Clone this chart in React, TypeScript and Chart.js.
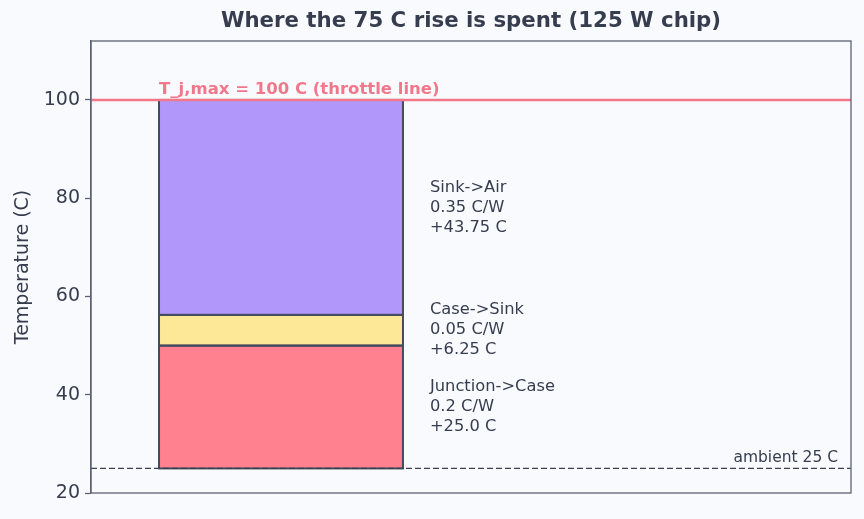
import React, { useEffect, useRef } from "react";
import { Chart, registerables } from "chart.js";

Chart.register(...registerables);

const categories = ["Thermal stack", ""];
const stageNames = ["Junction->Case", "Case->Sink", "Sink->Air"];
const resistances = [0.2, 0.05, 0.35];
const rises = [25.0, 6.25, 43.75];
const stageColors = ["#ff808f", "#fde898", "#b197fa"];
const ambient = 25;
const tjMax = 100;
const yTicks = [20, 40, 60, 80, 100];

const FONT = "'DejaVu Sans', sans-serif";
const TEXT = "#363d4f";
const AXIS = "#5c6173";
const EDGE = "#454b5e";

export default function App() {
  const ref = useRef<HTMLCanvasElement>(null);

  useEffect(() => {
    document.body.style.margin = "0";
    document.body.style.background = "#f9fafd";
    const ctx = ref.current!.getContext("2d")!;

    let base = ambient;
    const datasets = stageNames.map((name, i) => {
      const lo = base;
      const hi = base + rises[i];
      base = hi;
      return {
        label: name,
        data: [[lo, hi], null] as any,
        backgroundColor: stageColors[i],
        borderWidth: 0,
        grouped: false,
        barPercentage: 0.642,
        categoryPercentage: 1,
      };
    });

    const overlay = {
      id: "overlay",
      beforeDraw(chart: any) {
        const c = chart.ctx;
        c.save();
        c.fillStyle = "#f9fafd";
        c.fillRect(0, 0, chart.width, chart.height);
        c.restore();
      },
      afterDatasetsDraw(chart: any) {
        const c = chart.ctx;
        const a = chart.chartArea;
        const y = chart.scales.y;
        c.save();

        // bar edges, centred on segment boundaries
        c.strokeStyle = EDGE;
        c.lineWidth = 2;
        chart.data.datasets.forEach((_: any, i: number) => {
          const el = chart.getDatasetMeta(i).data[0];
          const l = el.x - el.width / 2;
          const top = Math.min(el.y, el.base);
          const h = Math.abs(el.base - el.y);
          c.strokeRect(l, top, el.width, h);
        });

        // throttle line
        const yt = y.getPixelForValue(tjMax);
        c.strokeStyle = "#f0788a";
        c.lineWidth = 2.5;
        c.beginPath();
        c.moveTo(a.left, yt);
        c.lineTo(a.right, yt);
        c.stroke();
        // ambient dashed
        const ya = y.getPixelForValue(ambient);
        c.strokeStyle = "#3b4050";
        c.lineWidth = 1.3;
        c.setLineDash([6, 3]);
        c.beginPath();
        c.moveTo(a.left, ya);
        c.lineTo(a.right, ya);
        c.stroke();
        c.setLineDash([]);
        // frame
        c.strokeStyle = AXIS;
        c.lineWidth = 1.3;
        c.strokeRect(a.left, a.top, a.right - a.left, a.bottom - a.top);

        const bar = chart.getDatasetMeta(0).data[0];
        const barLeft = bar.x - bar.width / 2;
        const barRight = bar.x + bar.width / 2;

        c.fillStyle = "#f0788a";
        c.font = `bold 16.5px ${FONT}`;
        c.textAlign = "left";
        c.textBaseline = "alphabetic";
        c.fillText(`T_j,max = ${tjMax} C (throttle line)`, barLeft, yt - 6);

        c.fillStyle = TEXT;
        c.font = `15.5px ${FONT}`;
        c.textAlign = "right";
        c.fillText(`ambient ${ambient} C`, a.right - 13, ya - 6);

        // stage labels
        c.font = `16.3px ${FONT}`;
        c.textAlign = "left";
        c.textBaseline = "middle";
        let b = ambient;
        stageNames.forEach((name, i) => {
          const mid = b + rises[i] / 2;
          b += rises[i];
          const py = y.getPixelForValue(mid);
          const lines = [name, `${resistances[i]} C/W`, `+${rises[i].toFixed(rises[i] % 1 === 0 ? 1 : 2)} C`];
          lines.forEach((t, k) => c.fillText(t, barRight + 27, py + (k - 1) * 20));
        });

        // title
        c.font = `bold 21.3px ${FONT}`;
        c.textAlign = "center";
        c.textBaseline = "middle";
        c.fillStyle = TEXT;
        c.fillText("Where the 75 C rise is spent (125 W chip)", (a.left + a.right) / 2, 21);
        c.restore();
      },
    };

    const chart = new Chart(ctx, {
      type: "bar",
      data: { labels: categories, datasets },
      options: {
        animation: false,
        responsive: false,
        layout: { padding: { left: 0, top: 41, right: 13, bottom: 26 } },
        plugins: { legend: { display: false }, title: { display: false }, tooltip: { enabled: false } },
        scales: {
          x: { display: false, stacked: false },
          y: {
            min: 20,
            max: 112,
            afterFit: (s: any) => { s.width = 91; },
            afterBuildTicks: (s: any) => { s.ticks = yTicks.map((v) => ({ value: v })); },
            grid: { drawOnChartArea: false, color: AXIS, tickLength: 6, tickWidth: 1.3 },
            border: { display: true, color: AXIS, width: 1.3 },
            ticks: { color: TEXT, font: { family: FONT, size: 19 }, padding: 5 },
            title: { display: true, text: "Temperature (C)", color: TEXT, font: { family: FONT, size: 19 }, padding: { top: 12, bottom: 0 } },
          },
        },
      },
      plugins: [overlay],
    });
    return () => chart.destroy();
  }, []);

  return (
    <div style={{ position: "absolute", left: 0, top: 0, width: 864, height: 519 }}>
      <canvas ref={ref} width={864} height={519} style={{ display: "block" }} />
    </div>
  );
}
